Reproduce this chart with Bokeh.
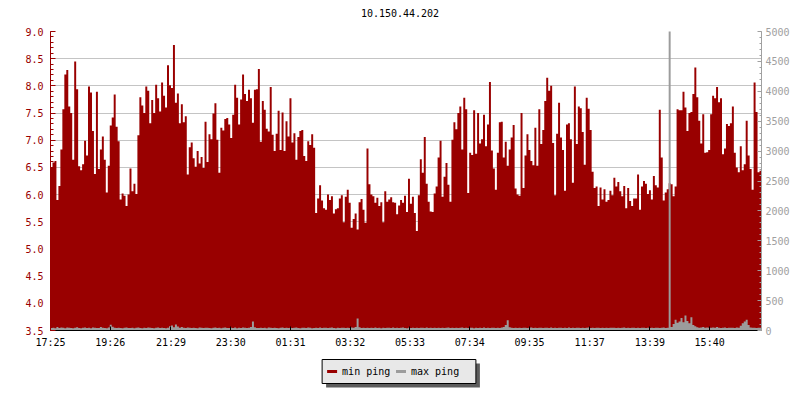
from bokeh.plotting import figure
from bokeh.layouts import column
from bokeh.models import (Range1d, LinearAxis, SingleIntervalTicker, FixedTicker,
                          PrintfTickFormatter, ColumnDataSource)
from bokeh.core.properties import value
from bokeh.embed import file_html
from bokeh.resources import INLINE

title_text = "10.150.44.202"
series_names = ["min ping", "max ping"]
sample_minutes = 4

x_tick_minutes = [0, 121, 244, 365, 486, 607, 728, 849, 970, 1092, 1214, 1335]
x_tick_labels = ["17:25", "19:26", "21:29", "23:30", "01:31", "03:32",
                 "05:33", "07:34", "09:35", "11:37", "13:39", "15:40"]

# min ping (left axis), one value per 4 minutes
min_ping = [
    6.50, 6.59, 6.62, 5.90, 6.16, 6.83, 7.57, 8.21, 8.29, 7.62,
    7.50, 6.64, 8.45, 7.94, 6.52, 6.45, 6.56, 6.99, 6.72, 7.99,
    7.88, 7.17, 6.38, 7.89, 6.47, 6.83, 7.07, 6.64, 6.04, 6.53,
    7.27, 7.42, 7.84, 7.25, 6.98, 5.91, 6.02, 5.98, 5.79, 6.00,
    6.48, 6.06, 6.20, 6.01, 7.09, 7.79, 7.64, 7.50, 7.99, 7.91,
    7.31, 7.74, 7.50, 8.02, 7.77, 7.53, 8.06, 7.82, 7.60, 8.38,
    8.01, 7.96, 8.75, 7.69, 7.86, 7.31, 7.66, 7.33, 7.44, 6.37,
    6.87, 6.96, 6.67, 6.51, 6.80, 6.57, 6.69, 6.49, 7.34, 6.60,
    7.11, 7.02, 7.49, 7.68, 7.01, 6.40, 7.23, 7.18, 7.39, 7.41,
    7.29, 7.04, 7.47, 8.02, 7.78, 7.29, 7.75, 8.21, 7.85, 7.72,
    7.93, 7.77, 7.32, 7.93, 7.94, 8.31, 6.97, 7.72, 7.56, 7.21,
    7.16, 7.98, 7.10, 6.80, 7.12, 7.54, 6.82, 7.51, 6.80, 7.35,
    7.07, 7.77, 6.96, 7.13, 6.64, 7.06, 7.17, 7.19, 6.71, 6.62,
    6.98, 6.91, 7.11, 6.86, 5.66, 5.93, 6.17, 5.89, 5.75, 5.72,
    6.00, 5.90, 5.97, 5.65, 5.73, 5.75, 5.93, 5.99, 5.49, 5.96,
    6.09, 5.85, 5.39, 5.55, 5.65, 5.36, 5.86, 5.92, 5.72, 5.48,
    6.85, 6.19, 6.00, 5.97, 5.85, 5.94, 5.79, 5.86, 5.49, 6.06,
    5.87, 5.91, 5.95, 5.86, 5.85, 5.64, 5.80, 5.90, 5.85, 5.98,
    5.68, 6.29, 5.83, 5.96, 5.66, 5.33, 5.99, 6.65, 6.40, 7.06,
    6.20, 5.87, 5.69, 5.68, 6.02, 6.15, 6.68, 6.99, 5.96, 6.33,
    6.58, 6.18, 5.87, 7.01, 7.33, 7.20, 7.50, 7.62, 6.83, 7.78,
    7.57, 6.03, 6.77, 6.73, 7.55, 6.75, 7.50, 6.94, 7.02, 7.47,
    6.89, 7.29, 8.07, 6.81, 6.48, 6.09, 6.77, 7.33, 7.34, 6.68,
    6.97, 6.53, 6.83, 7.05, 7.28, 6.11, 6.00, 5.98, 7.50, 6.12,
    6.72, 7.11, 6.82, 6.62, 6.54, 7.23, 6.53, 7.57, 6.93, 7.19,
    7.72, 8.15, 7.91, 8.00, 6.95, 5.99, 7.12, 7.69, 7.05, 6.82,
    6.07, 7.29, 7.31, 7.02, 6.22, 7.99, 6.93, 7.62, 7.59, 7.15,
    6.55, 7.78, 7.58, 7.19, 6.42, 6.12, 6.15, 5.79, 6.13, 5.91,
    6.10, 5.87, 5.90, 6.07, 5.99, 6.31, 6.15, 6.23, 6.06, 5.97,
    6.16, 5.75, 6.12, 5.88, 5.79, 5.93, 5.93, 6.37, 5.72, 6.15,
    6.25, 6.20, 6.01, 6.08, 5.91, 6.34, 6.17, 6.13, 7.56, 6.68,
    5.89, 6.04, 6.10, 6.21, 6.19, 5.97, 6.15, 7.57, 7.55, 7.55,
    7.89, 7.60, 7.17, 7.50, 7.52, 7.85, 8.34, 7.79, 7.36, 6.94,
    7.48, 6.77, 6.78, 6.82, 7.48, 7.82, 7.77, 7.98, 7.70, 7.77,
    6.74, 6.85, 7.30, 7.26, 7.31, 7.62, 6.77, 6.50, 6.41, 6.89,
    6.45, 6.56, 7.36, 6.72, 6.47, 6.09, 8.06, 7.52, 6.41, 6.44,
]

# max ping (right axis), one value per 4 minutes
max_ping = [
    40, 45, 38, 60, 42, 50, 44, 38, 52, 47, 40, 36, 48, 55, 42, 39, 46, 50, 41, 44,
    38, 52, 45, 40, 43, 58, 47, 41, 39, 50, 95, 62, 44, 40, 48, 42, 38, 46, 51, 43,
    40, 44, 39, 47, 52, 41, 38, 45, 43, 50, 46, 40, 37, 44, 49, 42, 48, 41, 39, 46,
    70, 85, 55, 100, 65, 48, 60, 45, 42, 50, 44, 40, 47, 43, 39, 52, 46, 41, 44, 48,
    42, 39, 45, 50, 41, 47, 38, 44, 52, 43, 40, 46, 41, 49, 38, 45, 42, 50, 44, 40,
    46, 60, 150, 55, 43, 40, 48, 42, 45, 39, 50, 44, 41, 47, 43, 38, 46, 52, 40, 44,
    43, 48, 40, 45, 51, 42, 39, 47, 44, 41, 50, 45, 38, 43, 46, 42, 49, 40, 44, 47,
    41, 45, 50, 43, 39, 46, 42, 48, 44, 40, 47, 43, 52, 45, 60, 200, 55, 42, 46, 41,
    44, 40, 47, 43, 50, 41, 45, 39, 48, 42, 46, 44, 40, 49, 43, 47, 41, 45, 50, 42,
    39, 46, 43, 48, 41, 45, 40, 47, 44, 42, 50, 43, 46, 41, 48, 40, 45, 43, 47, 42,
    44, 49, 41, 46, 40, 47, 43, 45, 50, 42, 46, 41, 48, 44, 39, 47, 43, 45, 41, 49,
    42, 46, 40, 48, 44, 41, 47, 43, 50, 60, 90, 170, 55, 45, 42, 48, 41, 46, 43, 44,
    47, 41, 45, 50, 43, 46, 40, 48, 44, 42, 47, 45, 41, 49, 43, 46, 40, 44, 48, 42,
    45, 43, 49, 41, 46, 42, 48, 44, 40, 47, 43, 45, 50, 42, 46, 41, 48, 44, 43, 47,
    41, 45, 42, 48, 44, 46, 40, 47, 43, 45, 49, 42, 46, 41, 44, 48, 43, 45, 40, 47,
    44, 42, 46, 43, 48, 41, 45, 47, 42, 44, 50, 43, 46, 5200, 60, 110, 180, 130, 150, 210,
    140, 250, 160, 120, 220, 90, 70, 55, 48, 50, 60, 45, 52, 48, 44, 50, 47, 60, 45, 42,
    46, 50, 43, 48, 44, 47, 42, 50, 46, 80, 120, 150, 180, 90, 50, 44, 48, 42, 46, 45,
]

RED = "#990000"
GREY = "#9c9c9c"
AXGREY = "#a0a0a0"
GRID = "#c4c4c4"
FONT = "DejaVu Sans Mono"
FS = "10px"
W = 792
FRAME_L, FRAME_R = 50, 762   # pixel extent of the aligned plot frames

n = len(min_ping)
# step edges: each value holds for one sampling interval
edges = [sample_minutes * i for i in range(n + 1)]
src = ColumnDataSource(dict(t=edges, mn=min_ping + min_ping[-1:],
                            mx=max_ping + max_ping[-1:]))

# ---- title strip
TH = 24
tt = figure(width=W, height=TH, output_backend="svg", toolbar_location=None,
            x_range=Range1d(FRAME_L, FRAME_R), y_range=Range1d(0, TH),
            min_border_left=FRAME_L, min_border_right=W - FRAME_R,
            min_border_top=0, min_border_bottom=0,
            x_axis_location=None, y_axis_location=None)
tt.outline_line_color = None
tt.xgrid.visible = False
tt.ygrid.visible = False
tt.text(x=[W / 2 + 4], y=[TH / 2], text=[title_text], text_font=value(FONT),
        text_font_size=FS, text_align="center", text_baseline="middle",
        text_color="black")

# ---- main chart
p = figure(width=W, height=350 - TH, output_backend="svg", toolbar_location=None,
           x_range=Range1d(0, sample_minutes * n), y_range=Range1d(3.5, 9.0),
           min_border_left=FRAME_L, min_border_right=W - FRAME_R,
           min_border_top=31 - TH, min_border_bottom=20)
p.outline_line_color = None
p.background_fill_color = "white"
p.border_fill_color = "white"

p.extra_y_ranges = {"right": Range1d(0, 5000)}

p.varea_step(x="t", y1=3.5, y2="mn", step_mode="after", source=src,
             fill_color=RED)
p.varea_step(x="t", y1=0, y2="mx", step_mode="after", source=src,
             y_range_name="right", fill_color=GREY)

# left axis
yl = p.yaxis[0]
yl.ticker = SingleIntervalTicker(interval=0.5, num_minor_ticks=5)
yl.formatter = PrintfTickFormatter(format="%.1f")
yl.axis_line_color = RED
yl.major_tick_line_color = RED
yl.minor_tick_line_color = RED
yl.major_label_text_color = RED
yl.major_label_text_font = FONT
yl.major_label_text_font_size = FS
yl.major_tick_in = 5
yl.major_tick_out = 0
yl.minor_tick_in = 3
yl.minor_tick_out = 0
yl.major_label_standoff = 7

p.ygrid.ticker = yl.ticker
p.ygrid.grid_line_color = GRID
p.xgrid.visible = False

# right axis
yr = LinearAxis(y_range_name="right",
                ticker=SingleIntervalTicker(interval=500, num_minor_ticks=5))
yr.axis_line_color = AXGREY
yr.major_tick_line_color = AXGREY
yr.minor_tick_line_color = AXGREY
yr.major_label_text_color = AXGREY
yr.major_label_text_font = FONT
yr.major_label_text_font_size = FS
yr.major_tick_in = 4
yr.major_tick_out = 0
yr.minor_tick_in = 2
yr.minor_tick_out = 0
yr.major_label_standoff = 4
p.add_layout(yr, "right")

# bottom axis
xa = p.xaxis[0]
xa.ticker = FixedTicker(ticks=x_tick_minutes, minor_ticks=[])
xa.major_label_overrides = {t: l for t, l in zip(x_tick_minutes, x_tick_labels)}
xa.axis_line_color = "black"
xa.major_tick_line_color = "black"
xa.major_label_text_color = "black"
xa.major_label_text_font = FONT
xa.major_label_text_font_size = FS
xa.major_tick_in = 4
xa.major_tick_out = 0
xa.major_label_standoff = 6

# ---- legend strip (pixel coordinates), with drop shadow
LH = 42
lg = figure(width=W, height=LH, output_backend="svg", toolbar_location=None,
            x_range=Range1d(FRAME_L, FRAME_R), y_range=Range1d(0, LH),
            min_border_left=FRAME_L, min_border_right=W - FRAME_R,
            min_border_top=0, min_border_bottom=0,
            x_axis_location=None, y_axis_location=None)
lg.outline_line_color = None
lg.xgrid.visible = False
lg.ygrid.visible = False

box_l, box_r, box_b, box_t, sh = 322, 476, 9, 33, 4
lg.quad(left=box_l + sh, right=box_r + sh, bottom=box_b - sh, top=box_t - sh,
        fill_color="#5c5c5c", line_color=None)
lg.quad(left=box_l, right=box_r, bottom=box_b, top=box_t,
        fill_color="#e8e8e8", line_color="black", line_width=1)
mid = (box_b + box_t) / 2
item_x = [327, 396]
for xs, name, col in zip(item_x, series_names, [RED, GREY]):
    lg.segment(x0=xs, y0=mid, x1=xs + 10, y1=mid, line_color=col, line_width=3)
    lg.text(x=[xs + 15], y=[mid], text=[name], text_font=value(FONT),
            text_font_size=FS, text_baseline="middle", text_align="left",
            text_color="black")

layout = column(tt, p, lg, spacing=0)
open("out.html", "w").write(file_html(layout, INLINE))
